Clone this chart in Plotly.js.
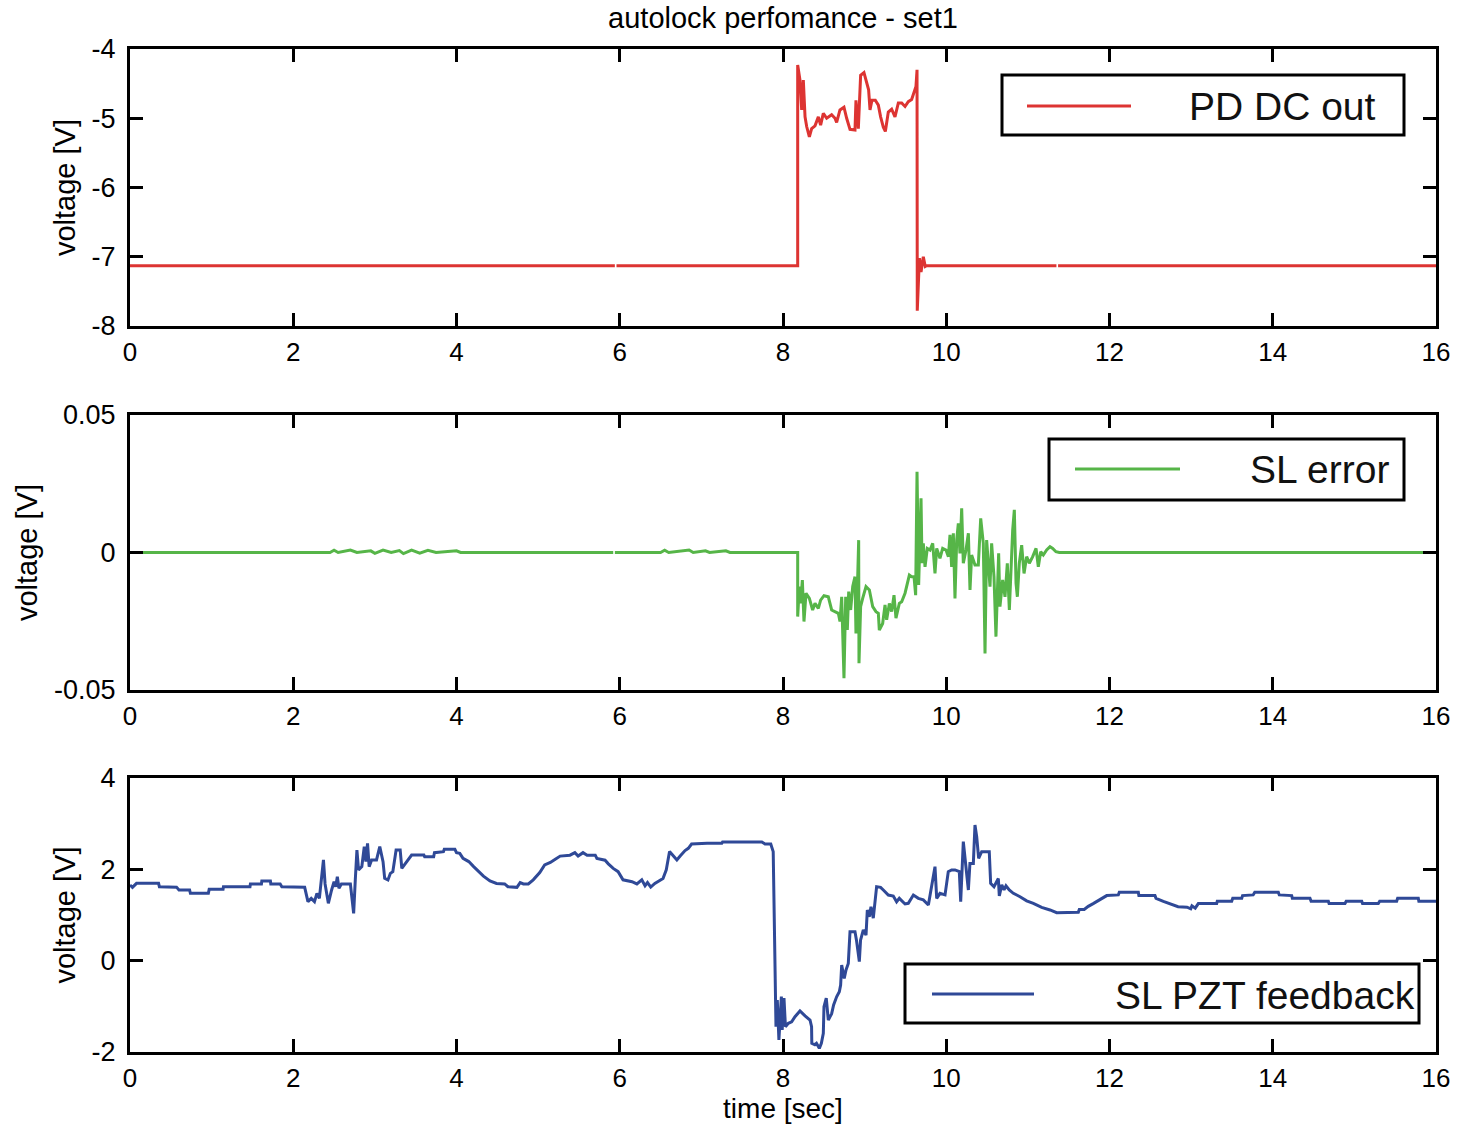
<!DOCTYPE html>
<html><head><meta charset="utf-8">
<script src="https://cdn.plot.ly/plotly-3.0.1.min.js"></script>
<style>html,body{margin:0;padding:0;background:#fff}</style>
</head><body><div id="chart" style="width:1462px;height:1128px"></div>
<script>
// ---------- DATA ----------
const chartTitle = 'autolock perfomance - set1';
const seriesNames = ['PD DC out', 'SL error', 'SL PZT feedback'];
const xTickVals = [0, 2, 4, 6, 8, 10, 12, 14, 16];
const yTickVals1 = [-8, -7, -6, -5, -4];
const yTickText1 = ['-8', '-7', '-6', '-5', '-4'];
const yTickVals2 = [-0.05, 0, 0.05];
const yTickText2 = ['-0.05', '0', '0.05'];
const yTickVals3 = [-2, 0, 2, 4];
const yTickText3 = ['-2', '0', '2', '4'];

// PD DC out
const pdTime = [0, 5.94, 5.95, 5.96, 8.18, 8.18, 8.208, 8.229, 8.249, 8.270,
  8.290, 8.323, 8.351, 8.392, 8.433, 8.461, 8.494, 8.535, 8.596, 8.637,
  8.657, 8.698, 8.747, 8.780, 8.821, 8.882, 8.894, 8.923, 8.951, 8.992,
  9.025, 9.049, 9.066, 9.090, 9.131, 9.168, 9.196, 9.229, 9.254, 9.290,
  9.331, 9.372, 9.413, 9.454, 9.495, 9.535, 9.576, 9.605, 9.629, 9.642,
  9.645, 9.671, 9.691, 9.719, 9.743, 9.76, 11.35, 11.36, 11.37, 16];
const pdVolt = [-7.13, -7.13, null, -7.13, -7.13, -4.23, -4.45, -4.88, -4.45, -4.98,
  -5.12, -5.27, -5.15, -5.11, -4.98, -5.10, -4.93, -5.00, -4.95, -5.00,
  -5.06, -4.88, -4.84, -5.00, -5.16, -5.17, -4.74, -5.15, -4.38, -4.34,
  -4.50, -4.59, -4.88, -4.74, -4.74, -4.81, -4.98, -5.13, -5.19, -4.91,
  -4.87, -4.98, -4.78, -4.78, -4.83, -4.76, -4.73, -4.64, -4.54, -4.30,
  -7.78, -7.02, -7.22, -7.00, -7.14, -7.13, -7.13, null, -7.13, -7.13];

// SL error
const errTime = [0, 2.45, 2.5, 2.55, 2.7, 2.78, 2.95, 3.0, 3.1, 3.2,
  3.3, 3.35, 3.45, 3.55, 3.65, 3.75, 4.0, 4.05, 5.92, 5.93,
  5.94, 6.5, 6.55, 6.6, 6.85, 6.9, 7.05, 7.1, 7.3, 7.35,
  8.18, 8.180, 8.200, 8.216, 8.237, 8.257, 8.282, 8.323, 8.363, 8.392,
  8.433, 8.461, 8.502, 8.555, 8.596, 8.637, 8.678, 8.698, 8.719, 8.747,
  8.768, 8.788, 8.805, 8.829, 8.854, 8.882, 8.894, 8.911, 8.927, 8.931,
  8.951, 8.976, 9.017, 9.058, 9.099, 9.139, 9.168, 9.180, 9.221, 9.250,
  9.270, 9.303, 9.331, 9.360, 9.384, 9.425, 9.454, 9.495, 9.523, 9.548,
  9.576, 9.605, 9.625, 9.642, 9.662, 9.678, 9.691, 9.703, 9.719, 9.740,
  9.768, 9.801, 9.834, 9.862, 9.883, 9.923, 9.956, 9.997, 10.026, 10.046,
  10.066, 10.087, 10.107, 10.128, 10.148, 10.168, 10.189, 10.209, 10.242, 10.271,
  10.291, 10.311, 10.352, 10.393, 10.422, 10.454, 10.475, 10.495, 10.516, 10.536,
  10.556, 10.585, 10.609, 10.626, 10.642, 10.658, 10.691, 10.720, 10.748, 10.773,
  10.789, 10.814, 10.834, 10.855, 10.871, 10.895, 10.924, 10.953, 10.985, 11.018,
  11.059, 11.100, 11.128, 11.157, 11.189, 11.230, 11.271, 11.304, 11.344, 11.385,
  16];
const errVolt = [0, 0, 0.0008, 0, 0.0009, 0, 0.0006, -0.0003, 0.0009, 0,
  0.0007, -0.0004, 0.0009, -0.0002, 0.0008, 0, 0.0006, 0, 0, null,
  0, 0, 0.0008, 0, 0.0009, 0, 0.0006, 0, 0.0006, 0,
  0, -0.0233, -0.0124, -0.0185, -0.0100, -0.0251, -0.0148, -0.0167, -0.0209, -0.0185,
  -0.0203, -0.0173, -0.0157, -0.0161, -0.0209, -0.0215, -0.0221, -0.0251, -0.0161, -0.0457,
  -0.0161, -0.0282, -0.0142, -0.0209, -0.0124, -0.0088, -0.0294, -0.0136, 0.0045, -0.0403,
  -0.0197, -0.0167, -0.0124, -0.0136, -0.0197, -0.0215, -0.0221, -0.0282, -0.0258, -0.0191,
  -0.0245, -0.0185, -0.0215, -0.0155, -0.0239, -0.0185, -0.0179, -0.0148, -0.0112, -0.0082,
  -0.0088, -0.0088, -0.0155, 0.0294, -0.0118, 0.0082, 0.0197, -0.0039, 0.0033, -0.0052,
  0.0015, 0.0009, 0.0033, -0.0076, 0.0015, -0.0021, 0.0015, 0.0009, -0.0015, 0.0064,
  -0.0052, 0.0070, -0.0167, 0.0045, 0.0106, -0.0003, 0.0161, -0.0039, 0.0009, 0.0070,
  -0.0136, -0.0009, -0.0045, -0.0045, 0.0124, 0.0033, -0.0367, 0.0045, -0.0064, -0.0124,
  0.0033, -0.0088, -0.0306, -0.0124, -0.0003, -0.0197, -0.0100, -0.0161, -0.0039, -0.0209,
  -0.0100, 0.0082, 0.0155, -0.0112, -0.0161, -0.0039, 0.0027, -0.0076, -0.0015, -0.0039,
  -0.0015, 0.0015, -0.0052, 0.0003, -0.0009, 0.0009, 0.0021, 0.0015, 0.0003, 0,
  0];

// SL PZT feedback
const pztTime = [0, 0.03, 0.08, 0.35, 0.36, 0.57, 0.60, 0.73, 0.74, 0.96,
  0.97, 1.14, 1.145, 1.47, 1.475, 1.61, 1.615, 1.72, 1.725, 1.84,
  1.86, 2.14, 2.18, 2.22, 2.26, 2.29, 2.32, 2.34, 2.37, 2.39,
  2.43, 2.47, 2.50, 2.52, 2.54, 2.56, 2.59, 2.70, 2.74, 2.76,
  2.78, 2.80, 2.84, 2.87, 2.89, 2.91, 2.93, 2.96, 3.02, 3.06,
  3.10, 3.12, 3.16, 3.19, 3.22, 3.26, 3.31, 3.33, 3.39, 3.45,
  3.51, 3.60, 3.61, 3.72, 3.73, 3.84, 3.85, 3.98, 4.00, 4.04,
  4.08, 4.15, 4.21, 4.27, 4.33, 4.41, 4.49, 4.59, 4.63, 4.74,
  4.78, 4.82, 4.88, 4.94, 5.02, 5.08, 5.15, 5.21, 5.27, 5.39,
  5.45, 5.49, 5.55, 5.60, 5.70, 5.72, 5.82, 5.86, 5.92, 5.98,
  6.04, 6.15, 6.21, 6.27, 6.31, 6.34, 6.38, 6.43, 6.49, 6.53,
  6.57, 6.61, 6.65, 6.70, 6.74, 6.80, 6.84, 6.88, 7.07, 7.25,
  7.26, 7.74, 7.78, 7.85, 7.88, 7.89, 7.914, 7.93, 7.95, 7.98,
  7.99, 8.012, 8.03, 8.065, 8.106, 8.147, 8.208, 8.27, 8.331, 8.35,
  8.353, 8.39, 8.41, 8.445, 8.47, 8.494, 8.502, 8.53, 8.555, 8.596,
  8.62, 8.657, 8.69, 8.706, 8.719, 8.75, 8.772, 8.80, 8.821, 8.882,
  8.90, 8.935, 8.95, 8.984, 9.017, 9.033, 9.057, 9.078, 9.106, 9.147,
  9.196, 9.229, 9.29, 9.351, 9.392, 9.425, 9.495, 9.535, 9.597, 9.658,
  9.719, 9.781, 9.82, 9.862, 9.883, 9.923, 9.985, 10.025, 10.066, 10.107,
  10.16, 10.177, 10.209, 10.24, 10.271, 10.29, 10.332, 10.352, 10.373, 10.397,
  10.434, 10.527, 10.544, 10.585, 10.638, 10.65, 10.68, 10.708, 10.732, 10.772,
  10.822, 10.904, 10.985, 11.067, 11.169, 11.271, 11.353, 11.618, 11.63, 11.69,
  11.74, 11.80, 11.86, 11.904, 11.966, 12.108, 12.12, 12.353, 12.36, 12.557,
  12.57, 12.66, 12.74, 12.84, 12.95, 12.995, 13.01, 13.05, 13.088, 13.313,
  13.32, 13.497, 13.51, 13.62, 13.63, 13.76, 13.78, 14.068, 14.08, 14.232,
  14.24, 14.456, 14.47, 14.681, 14.69, 14.885, 14.90, 15.09, 15.10, 15.293,
  15.31, 15.518, 15.53, 15.783, 15.79, 16];
const pztVolt = [1.657, 1.606, 1.694, 1.694, 1.62, 1.61, 1.548, 1.548, 1.475, 1.475,
  1.562, 1.562, 1.62, 1.62, 1.679, 1.679, 1.745, 1.745, 1.679, 1.679,
  1.62, 1.606, 1.292, 1.365, 1.292, 1.475, 1.365, 1.767, 2.205, 1.68,
  1.256, 1.548, 1.73, 1.62, 1.839, 1.584, 1.679, 1.679, 1.037, 1.767,
  2.423, 1.986, 2.058, 2.496, 2.168, 2.569, 2.058, 2.205, 2.205, 2.496,
  2.168, 1.803, 1.767, 1.912, 1.949, 2.423, 2.423, 2.022, 2.168, 2.314,
  2.314, 2.314, 2.277, 2.277, 2.365, 2.387, 2.438, 2.438, 2.365, 2.35,
  2.24, 2.17, 2.06, 1.95, 1.85, 1.745, 1.69, 1.68, 1.62, 1.606,
  1.71, 1.68, 1.68, 1.77, 1.93, 2.095, 2.15, 2.22, 2.29, 2.31,
  2.365, 2.29, 2.365, 2.31, 2.31, 2.24, 2.20, 2.12, 2.02, 1.95,
  1.77, 1.73, 1.68, 1.77, 1.64, 1.71, 1.61, 1.69, 1.745, 1.80,
  1.99, 2.39, 2.31, 2.205, 2.29, 2.41, 2.46, 2.555, 2.57, 2.57,
  2.60, 2.60, 2.555, 2.555, 2.387, 0.93, -1.445, -0.861, -1.737, -0.788,
  -1.518, -0.82, -1.445, -1.372, -1.34, -1.226, -1.102, -1.21, -1.30, -1.445,
  -1.81, -1.84, -1.81, -1.92, -1.81, -1.59, -1.007, -0.82, -1.30, -1.16,
  -0.97, -0.79, -0.679, -0.532, -0.095, -0.39, -0.204, -0.06, 0.635, 0.635,
  0.45, -0.022, 0.45, 0.672, 0.56, 1.11, 0.96, 1.18, 0.93, 1.62,
  1.606, 1.548, 1.438, 1.416, 1.29, 1.365, 1.241, 1.256, 1.438, 1.365,
  1.33, 1.22, 1.62, 2.058, 1.365, 1.475, 1.44, 1.949, 1.986, 1.986,
  1.949, 1.29, 2.606, 2.058, 1.548, 2.13, 2.13, 2.971, 2.715, 2.24,
  2.387, 2.387, 1.694, 1.62, 1.80, 1.42, 1.66, 1.548, 1.64, 1.548,
  1.475, 1.40, 1.31, 1.256, 1.168, 1.11, 1.051, 1.06, 1.12, 1.12,
  1.19, 1.25, 1.31, 1.365, 1.425, 1.44, 1.50, 1.50, 1.425, 1.425,
  1.365, 1.30, 1.25, 1.18, 1.17, 1.135, 1.20, 1.15, 1.25, 1.25,
  1.30, 1.30, 1.365, 1.365, 1.425, 1.44, 1.50, 1.50, 1.44, 1.425,
  1.365, 1.365, 1.30, 1.30, 1.25, 1.25, 1.30, 1.30, 1.25, 1.25,
  1.30, 1.30, 1.365, 1.365, 1.30, 1.30];

// ---------- STYLE / LAYOUT ----------
const FONT = 'Liberation Sans, Arial, Helvetica, sans-serif';
const colors = ['rgb(221,52,50)', 'rgb(86,181,72)', 'rgb(47,73,151)'];
const W = 1462, H = 1128;
const L = 130, R = 1436, T = 49, B = 1052;
const px = p => (p - L) / (R - L);
const py = p => (B - p) / (B - T);

const traces = [
  {x: pdTime, y: pdVolt, xaxis: 'x', yaxis: 'y', name: seriesNames[0]},
  {x: errTime, y: errVolt, xaxis: 'x2', yaxis: 'y2', name: seriesNames[1]},
  {x: pztTime, y: pztVolt, xaxis: 'x3', yaxis: 'y3', name: seriesNames[2]}
].map((t, i) => Object.assign(t, {
  type: 'scatter', mode: 'lines', showlegend: false, connectgaps: false,
  line: {color: colors[i], width: 3}
}));

function xax(anchor) {
  return {
    anchor: anchor, domain: [0, 1], range: [0, 16],
    tickmode: 'array', tickvals: xTickVals,
    ticks: 'inside', ticklen: 13, tickwidth: 3, tickcolor: '#000',
    showline: true, linewidth: 3, linecolor: '#000', mirror: 'ticks',
    showgrid: false, zeroline: false, ticklabelstandoff: 1,
    tickfont: {family: FONT, size: 26, color: '#000'}
  };
}
function yax(anchor, dom, range, vals, text) {
  return {
    anchor: anchor, domain: dom, range: range,
    tickmode: 'array', tickvals: vals, ticktext: text,
    ticks: 'inside', ticklen: 13, tickwidth: 3, tickcolor: '#000',
    showline: true, linewidth: 3, linecolor: '#000', mirror: 'ticks',
    showgrid: false, zeroline: false, ticklabelstandoff: 6,
    tickfont: {family: FONT, size: 27, color: '#000'},
    title: {text: 'voltage [V]', font: {family: FONT, size: 29, color: '#000'}, standoff: 8}
  };
}

const legends = [
  {box: [1002, 75, 1404, 135], line: [1027, 1131, 106], text: [1378, 106]},
  {box: [1049, 439, 1404, 500], line: [1075, 1180, 469], text: [1391, 469]},
  {box: [905, 964, 1419, 1023], line: [932, 1034, 994], text: [1417, 995]}
];
const shapes = [], annotations = [];
legends.forEach((lg, i) => {
  shapes.push({type: 'rect', xref: 'paper', yref: 'paper',
    x0: px(lg.box[0]), x1: px(lg.box[2]), y0: py(lg.box[3]), y1: py(lg.box[1]),
    line: {color: '#000', width: 3}, fillcolor: '#fff', layer: 'above'});
  shapes.push({type: 'line', xref: 'paper', yref: 'paper',
    x0: px(lg.line[0]), x1: px(lg.line[1]), y0: py(lg.line[2]), y1: py(lg.line[2]),
    line: {color: colors[i], width: 3}, layer: 'above'});
  annotations.push({xref: 'paper', yref: 'paper', x: px(lg.text[0]), y: py(lg.text[1]),
    xanchor: 'right', yanchor: 'middle', showarrow: false, text: seriesNames[i],
    font: {family: FONT, size: 39, color: '#111'}});
});

const x3 = xax('y3');
x3.title = {text: 'time [sec]', font: {family: FONT, size: 28, color: '#000'}, standoff: 7};

const layout = {
  width: W, height: H,
  margin: {l: L, r: W - R, t: T, b: H - B, pad: 0},
  paper_bgcolor: '#fff', plot_bgcolor: '#fff',
  font: {family: FONT, color: '#000'},
  title: {text: chartTitle, font: {family: FONT, size: 29, color: '#000'},
    xref: 'paper', x: 0.5, xanchor: 'center', yref: 'container', y: 1 - 18 / H, yanchor: 'middle'},
  xaxis: xax('y'),
  xaxis2: xax('y2'),
  xaxis3: x3,
  yaxis: yax('x', [py(326), py(49)], [-8, -4], yTickVals1, yTickText1),
  yaxis2: yax('x2', [py(690), py(415)], [-0.05, 0.05], yTickVals2, yTickText2),
  yaxis3: yax('x3', [py(1052), py(778)], [-2, 4], yTickVals3, yTickText3),
  shapes: shapes, annotations: annotations, showlegend: false
};

Plotly.newPlot('chart', traces, layout, {staticPlot: true, displayModeBar: false});
</script>
</body></html>
